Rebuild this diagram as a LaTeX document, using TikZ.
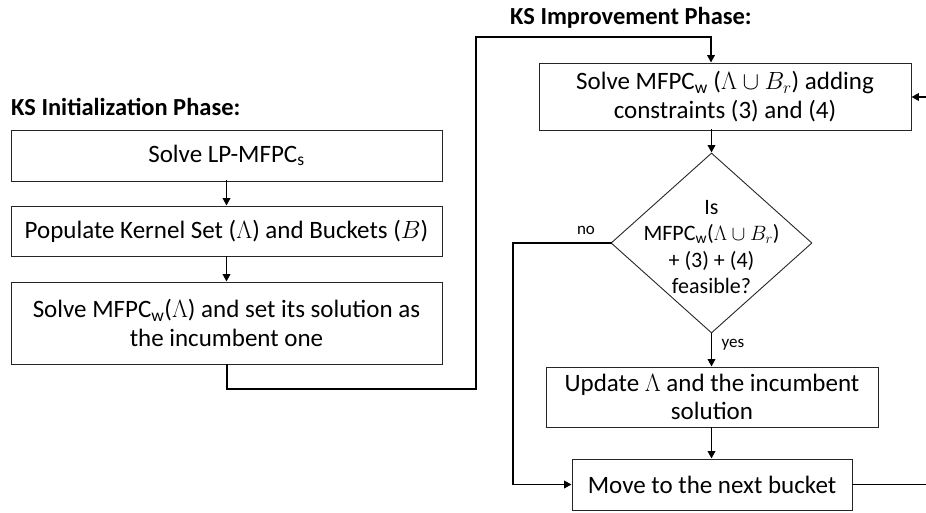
\documentclass[tikz,border=0pt]{standalone}
\usepackage{fontspec}
\setmainfont{Carlito}
\usetikzlibrary{arrows.meta,shapes.geometric}
\begin{document}
\begin{tikzpicture}[x=1pt,y=-1pt,
  box/.style={draw=black!85,line width=0.9pt,rectangle,inner sep=0pt,align=center,font=\fontsize{25}{28.5}\selectfont},
  dec/.style={draw=black!85,line width=0.9pt,diamond,inner sep=0pt},
  dectext/.style={align=center,inner sep=0pt,font=\fontsize{22}{26.5}\selectfont},
  conn/.style={line width=1.9pt,line cap=rect},
  arr/.style={conn,-{Triangle[length=7.5pt,width=7.5pt]}},
  title/.style={font=\bfseries\fontsize{24.5}{28}\selectfont,anchor=west,inner sep=0pt},
  lbl/.style={font=\fontsize{17}{19}\selectfont,inner sep=0pt}]
\useasboundingbox (0,0) rectangle (926,513);
\node[title] (t1) at (11,107) {KS Initialization Phase:};
\node[title] (t2) at (510,18) {KS Improvement Phase:};
\node[box,minimum width=431,minimum height=51] (b1) at (226.5,155.5) {Solve LP-MFPC\textsubscript{s}};
\node[box,minimum width=431,minimum height=50] (b2) at (226.5,231) {Populate Kernel Set ($\Lambda$) and Buckets ($B$)};
\node[box,minimum width=431,minimum height=82] (b3) at (226.5,323) {Solve MFPC\textsubscript{w}($\Lambda$) and set its solution as\\the incumbent one};
\node[box,minimum width=372,minimum height=67] (b4) at (725,96.5) {Solve MFPC\textsubscript{w} ($\Lambda\cup B_r$) adding\\constraints (3) and (4)};
\node[dec,minimum width=201,minimum height=180] (d) at (711.5,243) {};
\node[dectext] (dt) at (711.5,247) {Is\\MFPC\textsubscript{w}($\Lambda\cup B_r$)\\+ (3) + (4)\\feasible?};
\node[box,minimum width=332,minimum height=60] (b5) at (712,397) {Update $\Lambda$ and the incumbent\\solution};
\node[box,minimum width=280,minimum height=51] (b6) at (712,484.5) {Move to the next bucket};
\coordinate (c1) at (227,389);
\coordinate (c2) at (476,389);
\coordinate (c3) at (476,37);
\coordinate (c4) at (711,37);
\coordinate (c5) at (513,243);
\coordinate (c6) at (513,484.5);
\coordinate (r1) at (926,484.5);
\coordinate (r2) at (926,97);
\draw[arr] (b3.south -| c1) -- (c1) -- (c2) -- (c3) -- (c4) -- (b4.north -| c4);
\draw[arr] (b1.south) -- (b2.north);
\draw[arr] (b2.south) -- (b3.north);
\draw[arr] (b4.south -| d.north) -- (d.north);
\draw[arr] (d.south) -- (b5.north -| d.south);
\draw[arr] (b5.south -| d.south) -- (b6.north -| d.south);
\draw[arr] (d.west) -- (c5) -- (c6) -- (b6.west);
\draw[conn] (b6.east) -- (r1);
\draw[arr] (r2) -- (b4.east |- r2);
\node[lbl] (no) at (586,230) {no};
\node[lbl] (yes) at (733,345) {yes};
\end{tikzpicture}
\end{document}
